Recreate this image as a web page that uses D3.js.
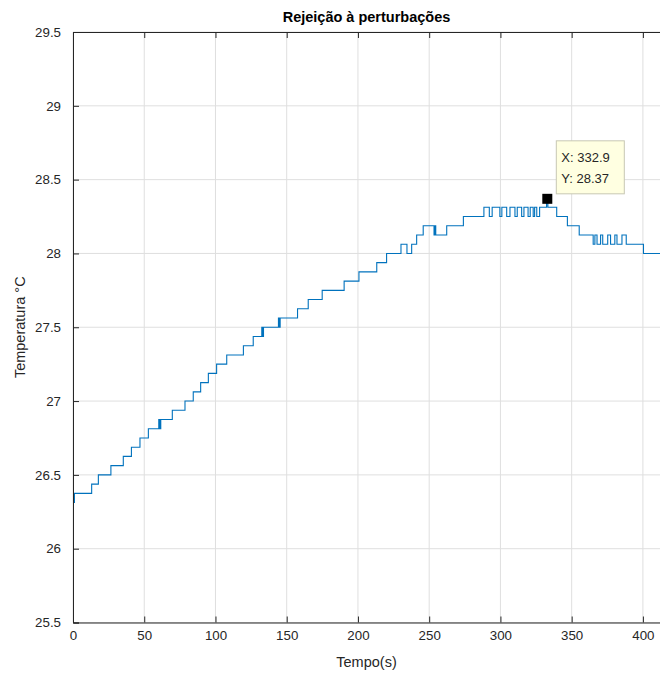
<html>
<head>
  <script src="https://cdnjs.cloudflare.com/ajax/libs/d3/7.8.5/d3.min.js"></script>
  <title>Rejeição à perturbações</title>
  <style>
    body { margin: 0; background: #fff; }
    text { font-family: "Liberation Sans", Arial, sans-serif; }
  </style>
</head>
<body>
<script>
  // step times (s) and sensor temperature (°C)
  const tempo = [0, 1, 13.1, 17.8, 26.6, 35.3, 41, 47, 52.9,
    60.2, 60.9, 61.6, 69.7, 78.6, 84.4, 89.6, 95, 100.8, 107.9, 119.6, 126.5,
    132.5, 133.1, 133.7, 134.3, 144.2, 144.8, 145.4, 157.6, 165.1, 174.9,
    190.3, 200.7, 213.2, 220.1, 230.2, 234.4, 237.7, 241.2, 245.8,
    253.4, 254, 254.6, 262.3, 274, 288.4,
    292.2, 294.2, 299.6, 301, 304.4, 306.7, 310.2, 311.8, 314.9, 316.5,
    319.4, 320.9, 323, 324, 325.5, 327.5, 332.4, 333.3, 339.5, 347, 355.3,
    365.1, 366.3, 367.8, 370.3, 371.8, 375.3, 377.3, 380.3, 381.8, 385.3, 388.3,
    400.4, 412];
  const temperatura = [26.3125, 26.375, 26.4375, 26.5, 26.5625, 26.625, 26.6875, 26.75, 26.8125,
    26.875, 26.8125, 26.875, 26.9375, 27.0, 27.0625, 27.125, 27.1875, 27.25, 27.3125, 27.375, 27.4375,
    27.5, 27.4375, 27.5, 27.5, 27.5625, 27.5, 27.5625, 27.625, 27.6875, 27.75,
    27.8125, 27.875, 27.9375, 28.0, 28.0625, 28.0, 28.0625, 28.125, 28.1875,
    28.125, 28.1875, 28.125, 28.1875, 28.25, 28.3125,
    28.25, 28.3125, 28.25, 28.3125, 28.25, 28.3125, 28.25, 28.3125, 28.25, 28.3125,
    28.25, 28.3125, 28.25, 28.3125, 28.25, 28.3125, 28.375, 28.3125, 28.25, 28.1875, 28.125,
    28.0625, 28.125, 28.0625, 28.125, 28.0625, 28.125, 28.0625, 28.125, 28.0625, 28.125, 28.0625,
    28.0, 28.0];

  const xTicks = [0, 50, 100, 150, 200, 250, 300, 350, 400];
  const yTicks = [25.5, 26, 26.5, 27, 27.5, 28, 28.5, 29, 29.5];
  const tipPoint = [332.9, 28.37];
  const tipLabels = ["X: 332.9", "Y: 28.37"];

  const w = 660;
  const h = 675;
  const padL = 73, padR = 660, padT = 32, padB = 622.5;
  const dark = "#262626";

  const xScale = d3.scaleLinear().domain([0, 412]).range([padL, padR]);
  const yScale = d3.scaleLinear().domain([25.5, 29.5]).range([padB, padT]);

  const svg = d3.select("body")
    .append("svg")
    .attr("width", w)
    .attr("height", h);

  // grid
  svg.append("g").selectAll("line")
    .data(xTicks)
    .enter()
    .append("line")
    .attr("x1", d => xScale(d)).attr("x2", d => xScale(d))
    .attr("y1", padT).attr("y2", padB)
    .attr("stroke", "#dfdfdf");
  svg.append("g").selectAll("line")
    .data(yTicks)
    .enter()
    .append("line")
    .attr("x1", padL).attr("x2", padR)
    .attr("y1", d => yScale(d)).attr("y2", d => yScale(d))
    .attr("stroke", "#dfdfdf");

  // data line
  const pts = tempo.map((t, i) => [t, temperatura[i]]);
  const line = d3.line()
    .x(d => xScale(d[0]))
    .y(d => yScale(d[1]))
    .curve(d3.curveStepAfter);

  svg.append("path")
    .datum(pts)
    .attr("d", line)
    .attr("fill", "none")
    .attr("stroke", "#0072BD")
    .attr("stroke-width", 1.1);

  // axes (ticks inward like matlab)
  const xAxis = d3.axisBottom(xScale).tickValues(xTicks).tickSize(-6).tickPadding(8).tickFormat(d3.format("d"));
  const yAxis = d3.axisLeft(yScale).tickValues(yTicks).tickSize(-6).tickPadding(12).tickFormat(d => d);

  const gx = svg.append("g")
    .attr("id", "x-axis")
    .attr("transform", "translate(0," + padB + ")")
    .call(xAxis);
  const gy = svg.append("g")
    .attr("id", "y-axis")
    .attr("transform", "translate(" + padL + ",0)")
    .call(yAxis);

  const gTop = svg.append("g")
    .attr("transform", "translate(0," + padT + ")")
    .call(d3.axisTop(xScale).tickValues(xTicks).tickSize(-6).tickFormat(""));

  [gx, gy, gTop].forEach(g => {
    g.select(".domain").attr("stroke", dark).attr("stroke-width", 1);
    g.selectAll(".tick line").attr("stroke", dark);
    g.selectAll(".tick text")
      .attr("fill", dark)
      .style("font-size", "13.3px")
      .style("font-family", "'Liberation Sans', Arial, sans-serif");
  });

  // labels
  svg.append("text")
    .attr("x", (padL + padR) / 2)
    .attr("y", 22)
    .attr("text-anchor", "middle")
    .attr("font-weight", "bold")
    .attr("font-size", 14.5)
    .attr("fill", "#000")
    .text("Rejeição à perturbações");

  svg.append("text")
    .attr("x", (padL + padR) / 2)
    .attr("y", 667)
    .attr("text-anchor", "middle")
    .attr("font-size", 14.5)
    .attr("fill", dark)
    .text("Tempo(s)");

  svg.append("text")
    .attr("transform", "translate(25," + (padT + padB) / 2 + ") rotate(-90)")
    .attr("text-anchor", "middle")
    .attr("font-size", 14.5)
    .attr("fill", dark)
    .text("Temperatura °C");

  // data tip
  const tx = xScale(tipPoint[0]), ty = yScale(tipPoint[1]);
  svg.append("rect")
    .attr("x", tx - 5).attr("y", ty - 5)
    .attr("width", 10).attr("height", 10)
    .attr("fill", "#000");

  const box = svg.append("g").attr("transform", "translate(" + (tx + 9) + "," + (ty - 58) + ")");
  box.append("rect")
    .attr("width", 68).attr("height", 53)
    .attr("fill", "#ffffe1")
    .attr("stroke", "#c8c8b4");
  box.selectAll("text")
    .data(tipLabels)
    .enter()
    .append("text")
    .attr("x", 5)
    .attr("y", (d, i) => 21 + i * 21)
    .attr("font-size", 13)
    .attr("fill", dark)
    .text(d => d);
</script>
</body>
</html>
